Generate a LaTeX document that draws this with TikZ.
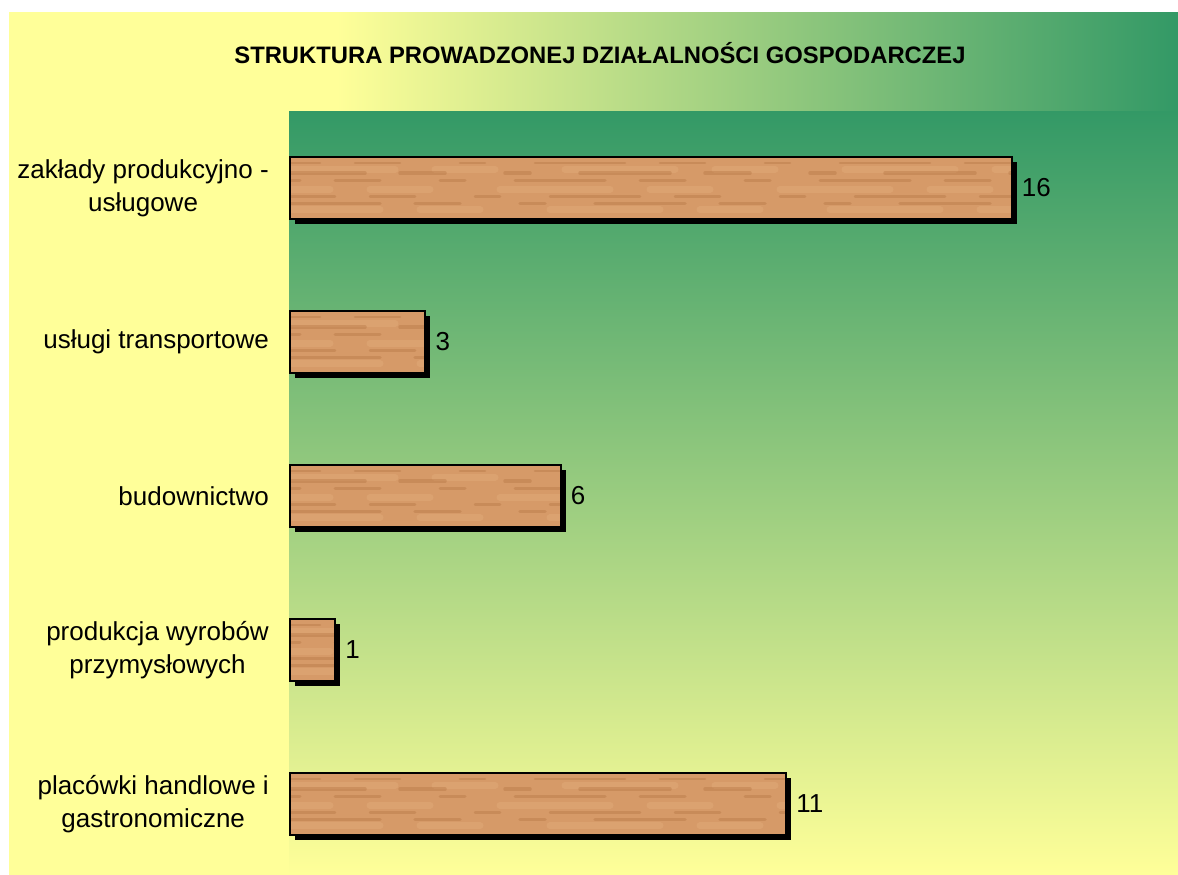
\documentclass[tikz,border=0pt]{standalone}
\usepackage{fontspec}
\setmainfont{Liberation Sans}
\usepackage{tikz}
\usetikzlibrary{positioning,calc,shadows}
\usepackage{xcolor}

\definecolor{chartgreen}{RGB}{51,153,102}
\definecolor{chartyellow}{RGB}{255,255,153}
\definecolor{woodbase}{RGB}{214,154,104}
\definecolor{woodgrain}{RGB}{170,105,55}
\definecolor{woodlight}{RGB}{228,174,124}

\pgfdeclarehorizontalshading{outerbg}{100bp}{color(0bp)=(chartyellow); color(39bp)=(chartyellow); color(75bp)=(chartgreen); color(100bp)=(chartgreen)}

\tikzset{
  bar/.style={draw=black, line width=2pt, fill=woodbase, minimum height=62pt, inner sep=0pt, anchor=west,
    drop shadow={shadow xshift=5pt, shadow yshift=-5pt, opacity=1, fill=black},
    path picture={
      % light and dark grain
      \foreach \s/\p in {0.15/20, 0.48/70, 0.8/5} {
        \draw[woodlight, line width=7pt, opacity=0.4, line cap=round, dash pattern=on 110pt off 40pt on 60pt off 70pt, dash phase=\p pt]
          ($(path picture bounding box.south west)!\s!(path picture bounding box.north west)$) --
          ($(path picture bounding box.south east)!\s!(path picture bounding box.north east)$);
      }
      \foreach \s/\p/\w in {0.25/0/3.5, 0.36/45/2.5, 0.62/80/3, 0.74/15/3.5, 0.9/60/2.5} {
        \draw[woodgrain, line width=\w pt, opacity=0.3, line cap=round, dash pattern=on 90pt off 35pt on 45pt off 60pt on 25pt off 50pt, dash phase=\p pt]
          ($(path picture bounding box.south west)!\s!(path picture bounding box.north west)$) --
          ($(path picture bounding box.south east)!\s!(path picture bounding box.north east)$);
      }
    }},
  catlabel/.style={anchor=east, align=center, font=\fontsize{26}{33}\selectfont, inner sep=0pt},
  vallabel/.style={anchor=west, font=\fontsize{26}{30}\selectfont, inner sep=0pt},
  charttitle/.style={font=\fontsize{23.8}{28}\selectfont\bfseries, inner sep=0pt}
}

\begin{document}
\begin{tikzpicture}[x=1pt, y=-1pt]
  \useasboundingbox (0,0) rectangle (1178,875);
  % background and plot area
  \shade[shading=outerbg] (9,13) rectangle (1178,875);
  \shade[top color=chartgreen, bottom color=chartyellow] (289,111) rectangle (1178,875);

  \node[charttitle] (title) at (600,53) {STRUKTURA PROWADZONEJ DZIAŁALNOŚCI GOSPODARCZEJ};

  % bars
  \foreach \v/\lab [count=\i] in {16/{zakłady produkcyjno -\\usługowe}, 3/{usługi transportowe},
      6/{budownictwo}, 1/{produkcja wyrobów\\przymysłowych}, 11/{placówki handlowe i\\gastronomiczne}} {
    \pgfmathsetmacro{\yc}{188+154*(\i-1)}
    \node[bar, minimum width=45.1*\v] (bar\i) at (289,\yc) {};
    \node[vallabel, right=9pt of bar\i.east] (val\i) {\v};
    \node[catlabel] (lab\i) at (269,\yc) {\lab};
  }
\end{tikzpicture}
\end{document}
